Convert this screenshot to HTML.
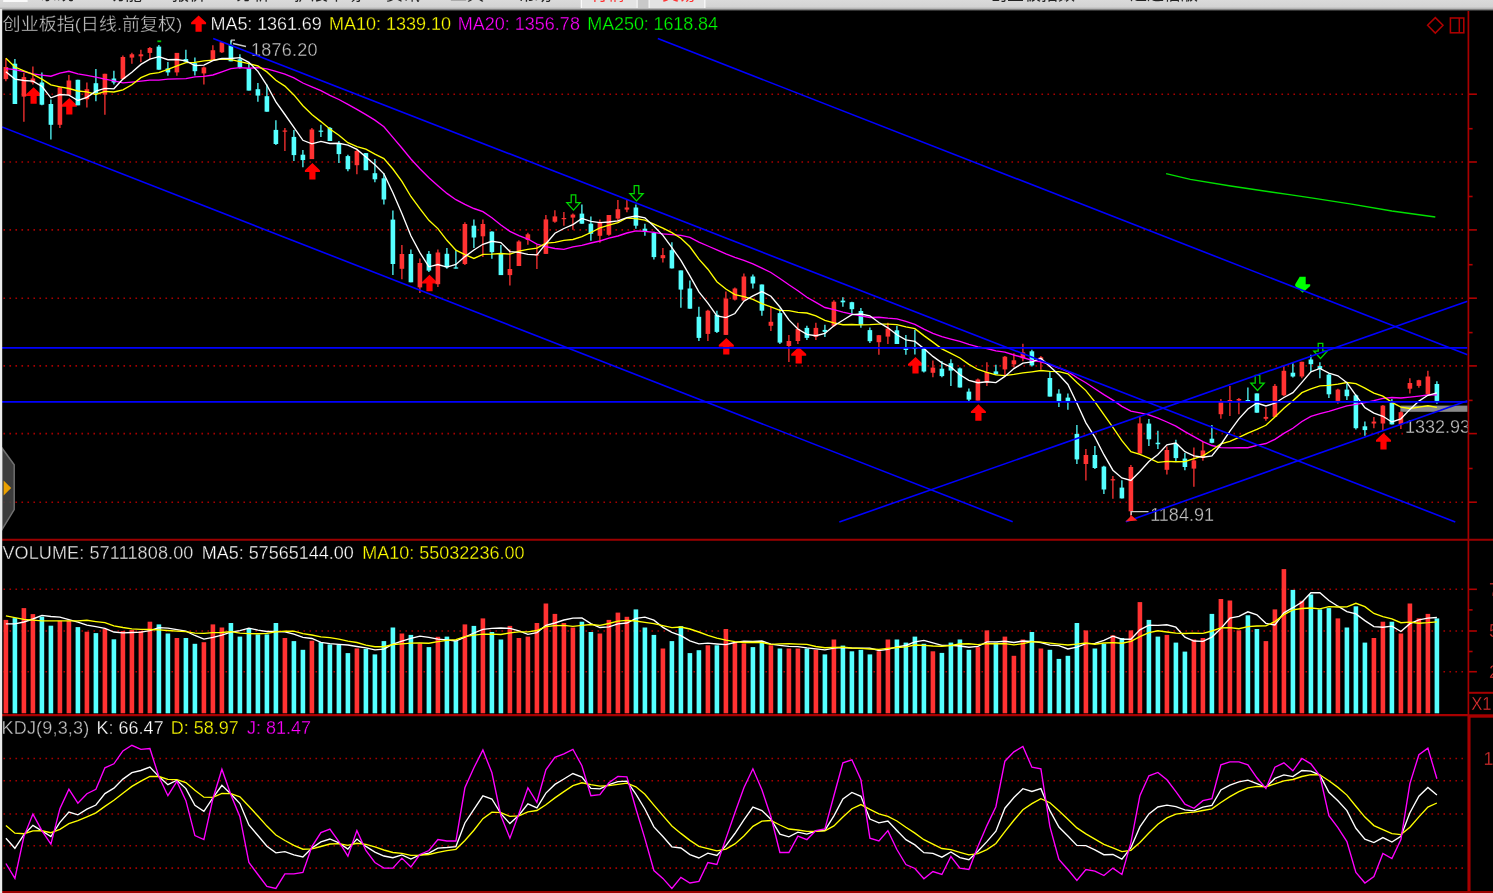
<!DOCTYPE html>
<html lang="zh"><head><meta charset="utf-8"><title>创业板指 日线</title>
<style>html,body{margin:0;padding:0;background:#000;overflow:hidden}body{width:1493px;height:893px;position:relative}svg{display:block;position:absolute;left:0;top:0}text{font-family:"Liberation Sans","Noto Sans CJK SC",sans-serif;font-size:18px;stroke:#000;stroke-width:0.3px}.cj{font-family:"Liberation Sans","Noto Sans CJK SC",sans-serif;font-size:17px}.tb{font-family:"Liberation Sans","Noto Sans CJK SC",sans-serif;font-size:17px;fill:#222;stroke:none}</style></head><body>
<svg width="1493" height="893" viewBox="0 0 1493 893">
<defs><linearGradient id="tg" x1="0" y1="0" x2="0" y2="1"><stop offset="0" stop-color="#dadada"/><stop offset="0.62" stop-color="#d3d3d3"/><stop offset="0.8" stop-color="#b2b2b2"/><stop offset="0.92" stop-color="#5a5a5a"/><stop offset="1" stop-color="#000"/></linearGradient><clipPath id="cm"><rect x="2" y="10" width="1465.5" height="530"/></clipPath><clipPath id="ct"><rect x="0" y="0" width="1493" height="9"/></clipPath><filter id="bl" x="-2%" y="-2%" width="104%" height="104%"><feGaussianBlur stdDeviation="0.35"/></filter></defs>
<rect x="0" y="0" width="1493" height="893" fill="#000"/>
<g filter="url(#bl)">
<line x1="3.45" y1="94.2" x2="1463" y2="94.2" stroke="#a60000" stroke-width="1.6" stroke-dasharray="1.6 4.4"/>
<line x1="3.45" y1="162.0" x2="1463" y2="162.0" stroke="#a60000" stroke-width="1.6" stroke-dasharray="1.6 4.4"/>
<line x1="3.45" y1="229.9" x2="1463" y2="229.9" stroke="#a60000" stroke-width="1.6" stroke-dasharray="1.6 4.4"/>
<line x1="3.45" y1="298.2" x2="1463" y2="298.2" stroke="#a60000" stroke-width="1.6" stroke-dasharray="1.6 4.4"/>
<line x1="3.45" y1="365.9" x2="1463" y2="365.9" stroke="#a60000" stroke-width="1.6" stroke-dasharray="1.6 4.4"/>
<line x1="3.45" y1="433.6" x2="1463" y2="433.6" stroke="#a60000" stroke-width="1.6" stroke-dasharray="1.6 4.4"/>
<line x1="3.45" y1="502.2" x2="1463" y2="502.2" stroke="#a60000" stroke-width="1.6" stroke-dasharray="1.6 4.4"/>
<line x1="3.45" y1="589.3" x2="1463" y2="589.3" stroke="#a60000" stroke-width="1.6" stroke-dasharray="1.6 4.4"/>
<line x1="3.45" y1="631.0" x2="1463" y2="631.0" stroke="#a60000" stroke-width="1.6" stroke-dasharray="1.6 4.4"/>
<line x1="3.45" y1="671.7" x2="1463" y2="671.7" stroke="#a60000" stroke-width="1.6" stroke-dasharray="1.6 4.4"/>
<line x1="3.45" y1="758.5" x2="1463" y2="758.5" stroke="#a60000" stroke-width="1.6" stroke-dasharray="1.6 4.4"/>
<line x1="3.45" y1="780.8" x2="1463" y2="780.8" stroke="#a60000" stroke-width="1.6" stroke-dasharray="1.6 4.4"/>
<line x1="3.45" y1="814.0" x2="1463" y2="814.0" stroke="#a60000" stroke-width="1.6" stroke-dasharray="1.6 4.4"/>
<line x1="3.45" y1="845.7" x2="1463" y2="845.7" stroke="#a60000" stroke-width="1.6" stroke-dasharray="1.6 4.4"/>
<line x1="3.45" y1="868.1" x2="1463" y2="868.1" stroke="#a60000" stroke-width="1.6" stroke-dasharray="1.6 4.4"/>
<line x1="1468.4" y1="10.5" x2="1468.4" y2="716" stroke="#a80000" stroke-width="1.7"/>
<line x1="1469" y1="715" x2="1469" y2="893" stroke="#a80000" stroke-width="3.1"/>
<line x1="2" y1="539.7" x2="1493" y2="539.7" stroke="#9c0000" stroke-width="1.9"/>
<line x1="2" y1="715.2" x2="1468" y2="715.2" stroke="#a80000" stroke-width="2.2"/>
<line x1="1468" y1="716" x2="1493" y2="716" stroke="#a80000" stroke-width="3.4"/>
<line x1="1468" y1="692.8" x2="1493" y2="692.8" stroke="#a80000" stroke-width="2"/>
<line x1="2" y1="892.3" x2="1493" y2="892.3" stroke="#9c0000" stroke-width="2.6"/>
<line x1="1468.4" y1="94.2" x2="1476.9" y2="94.2" stroke="#b00000" stroke-width="1.6"/>
<line x1="1468.4" y1="128.7" x2="1472.6" y2="128.7" stroke="#b00000" stroke-width="1.6"/>
<line x1="1468.4" y1="162.0" x2="1476.9" y2="162.0" stroke="#b00000" stroke-width="1.6"/>
<line x1="1468.4" y1="196.5" x2="1472.6" y2="196.5" stroke="#b00000" stroke-width="1.6"/>
<line x1="1468.4" y1="229.9" x2="1476.9" y2="229.9" stroke="#b00000" stroke-width="1.6"/>
<line x1="1468.4" y1="264.7" x2="1472.6" y2="264.7" stroke="#b00000" stroke-width="1.6"/>
<line x1="1468.4" y1="298.2" x2="1476.9" y2="298.2" stroke="#b00000" stroke-width="1.6"/>
<line x1="1468.4" y1="332.6" x2="1472.6" y2="332.6" stroke="#b00000" stroke-width="1.6"/>
<line x1="1468.4" y1="365.9" x2="1476.9" y2="365.9" stroke="#b00000" stroke-width="1.6"/>
<line x1="1468.4" y1="400.4" x2="1472.6" y2="400.4" stroke="#b00000" stroke-width="1.6"/>
<line x1="1468.4" y1="433.6" x2="1476.9" y2="433.6" stroke="#b00000" stroke-width="1.6"/>
<line x1="1468.4" y1="468.5" x2="1472.6" y2="468.5" stroke="#b00000" stroke-width="1.6"/>
<line x1="1468.4" y1="502.2" x2="1476.9" y2="502.2" stroke="#b00000" stroke-width="1.6"/>
<line x1="1468.4" y1="589.3" x2="1476.9" y2="589.3" stroke="#b00000" stroke-width="1.6"/>
<line x1="1468.4" y1="631.0" x2="1476.9" y2="631.0" stroke="#b00000" stroke-width="1.6"/>
<line x1="1468.4" y1="671.7" x2="1476.9" y2="671.7" stroke="#b00000" stroke-width="1.6"/>
<line x1="1468.4" y1="609.9" x2="1472.6" y2="609.9" stroke="#b00000" stroke-width="1.6"/>
<line x1="1468.4" y1="651.5" x2="1472.6" y2="651.5" stroke="#b00000" stroke-width="1.6"/>
<path d="M33.6 87.2 L41.1 94.3 L41.1 96.0 L36.7 96.0 L36.7 103.7 L30.5 103.7 L30.5 96.0 L26.1 96.0 L26.1 94.3 Z" fill="#ff0000"/>
<path d="M69.3 98.0 L76.8 105.1 L76.8 106.8 L72.4 106.8 L72.4 114.5 L66.2 114.5 L66.2 106.8 L61.8 106.8 L61.8 105.1 Z" fill="#ff0000"/>
<path d="M312.4 163.1 L319.9 170.2 L319.9 171.9 L315.5 171.9 L315.5 179.6 L309.3 179.6 L309.3 171.9 L304.9 171.9 L304.9 170.2 Z" fill="#ff0000"/>
<path d="M429.5 274.8 L437.0 281.9 L437.0 283.6 L432.6 283.6 L432.6 291.3 L426.4 291.3 L426.4 283.6 L422.0 283.6 L422.0 281.9 Z" fill="#ff0000"/>
<path d="M726.3 337.9 L733.8 345.0 L733.8 346.7 L729.4 346.7 L729.4 354.4 L723.2 354.4 L723.2 346.7 L718.8 346.7 L718.8 345.0 Z" fill="#ff0000"/>
<path d="M798.7 347.0 L806.2 354.1 L806.2 355.8 L801.8 355.8 L801.8 363.5 L795.6 363.5 L795.6 355.8 L791.2 355.8 L791.2 354.1 Z" fill="#ff0000"/>
<path d="M915.5 357.0 L923.0 364.1 L923.0 365.8 L918.6 365.8 L918.6 373.5 L912.4 373.5 L912.4 365.8 L908.0 365.8 L908.0 364.1 Z" fill="#ff0000"/>
<path d="M978.4 404.3 L985.9 411.4 L985.9 413.1 L981.5 413.1 L981.5 420.8 L975.3 420.8 L975.3 413.1 L970.9 413.1 L970.9 411.4 Z" fill="#ff0000"/>
<path d="M1383.5 432.9 L1391.0 440.0 L1391.0 441.7 L1386.6 441.7 L1386.6 449.4 L1380.4 449.4 L1380.4 441.7 L1376.0 441.7 L1376.0 440.0 Z" fill="#ff0000"/>
<rect x="1400.4" y="405.6" width="67" height="6.2" fill="#8a8a8a"/>
<line x1="5.9" y1="58.3" x2="5.9" y2="81.2" stroke="#ff3232" stroke-width="1.3"/>
<rect x="3.6" y="67.0" width="4.6" height="12.1" fill="#ff3232"/>
<line x1="14.9" y1="59.0" x2="14.9" y2="104.0" stroke="#54ffff" stroke-width="1.3"/>
<rect x="12.6" y="63.7" width="4.6" height="40.3" fill="#54ffff"/>
<line x1="23.9" y1="73.0" x2="23.9" y2="121.8" stroke="#ff3232" stroke-width="1.3"/>
<rect x="21.6" y="77.1" width="4.6" height="19.5" fill="#ff3232"/>
<line x1="32.9" y1="66.4" x2="32.9" y2="84.5" stroke="#ff3232" stroke-width="1.3"/>
<rect x="30.6" y="78.5" width="4.6" height="4.0" fill="#ff3232"/>
<line x1="41.9" y1="72.4" x2="41.9" y2="105.3" stroke="#54ffff" stroke-width="1.3"/>
<rect x="39.6" y="82.5" width="4.6" height="22.2" fill="#54ffff"/>
<line x1="50.9" y1="99.5" x2="50.9" y2="139.6" stroke="#54ffff" stroke-width="1.3"/>
<rect x="48.6" y="104.0" width="4.6" height="20.8" fill="#54ffff"/>
<line x1="59.9" y1="87.2" x2="59.9" y2="128.1" stroke="#ff3232" stroke-width="1.3"/>
<rect x="57.6" y="87.2" width="4.6" height="37.6" fill="#ff3232"/>
<line x1="68.9" y1="75.1" x2="68.9" y2="95.3" stroke="#ff3232" stroke-width="1.3"/>
<rect x="66.6" y="80.5" width="4.6" height="14.8" fill="#ff3232"/>
<line x1="77.9" y1="79.8" x2="77.9" y2="105.3" stroke="#54ffff" stroke-width="1.3"/>
<rect x="75.6" y="79.8" width="4.6" height="25.5" fill="#54ffff"/>
<line x1="86.9" y1="82.5" x2="86.9" y2="107.4" stroke="#ff3232" stroke-width="1.3"/>
<rect x="84.6" y="89.2" width="4.6" height="10.1" fill="#ff3232"/>
<line x1="95.9" y1="69.0" x2="95.9" y2="101.3" stroke="#54ffff" stroke-width="1.3"/>
<rect x="93.6" y="83.2" width="4.6" height="10.0" fill="#54ffff"/>
<line x1="104.9" y1="73.8" x2="104.9" y2="114.8" stroke="#ff3232" stroke-width="1.3"/>
<rect x="102.6" y="73.8" width="4.6" height="20.8" fill="#ff3232"/>
<line x1="113.9" y1="70.8" x2="113.9" y2="84.5" stroke="#54ffff" stroke-width="1.3"/>
<rect x="111.6" y="78.5" width="4.6" height="4.0" fill="#54ffff"/>
<line x1="122.9" y1="55.6" x2="122.9" y2="79.1" stroke="#ff3232" stroke-width="1.3"/>
<rect x="120.6" y="57.0" width="4.6" height="22.1" fill="#ff3232"/>
<line x1="131.9" y1="52.7" x2="131.9" y2="63.7" stroke="#ff3232" stroke-width="1.3"/>
<rect x="129.6" y="54.3" width="4.6" height="3.3" fill="#ff3232"/>
<line x1="140.9" y1="49.8" x2="140.9" y2="62.3" stroke="#ff3232" stroke-width="1.3"/>
<rect x="138.6" y="54.3" width="4.6" height="2.0" fill="#ff3232"/>
<line x1="149.9" y1="46.9" x2="149.9" y2="59.7" stroke="#ff3232" stroke-width="1.3"/>
<rect x="147.6" y="48.0" width="4.6" height="4.9" fill="#ff3232"/>
<line x1="158.9" y1="44.9" x2="158.9" y2="69.7" stroke="#54ffff" stroke-width="1.3"/>
<rect x="156.6" y="46.6" width="4.6" height="23.1" fill="#54ffff"/>
<line x1="167.9" y1="62.1" x2="167.9" y2="75.8" stroke="#54ffff" stroke-width="1.3"/>
<rect x="165.6" y="68.4" width="4.6" height="4.0" fill="#54ffff"/>
<line x1="176.9" y1="52.9" x2="176.9" y2="75.8" stroke="#ff3232" stroke-width="1.3"/>
<rect x="174.6" y="52.9" width="4.6" height="19.5" fill="#ff3232"/>
<line x1="185.9" y1="49.8" x2="185.9" y2="61.7" stroke="#54ffff" stroke-width="1.3"/>
<rect x="183.6" y="59.0" width="4.6" height="2.7" fill="#54ffff"/>
<line x1="194.9" y1="57.4" x2="194.9" y2="75.6" stroke="#54ffff" stroke-width="1.3"/>
<rect x="192.6" y="63.2" width="4.6" height="8.0" fill="#54ffff"/>
<line x1="203.9" y1="66.4" x2="203.9" y2="84.5" stroke="#ff3232" stroke-width="1.3"/>
<rect x="201.6" y="67.4" width="4.6" height="6.0" fill="#ff3232"/>
<line x1="212.9" y1="45.2" x2="212.9" y2="60.3" stroke="#ff3232" stroke-width="1.3"/>
<rect x="210.6" y="50.2" width="4.6" height="10.1" fill="#ff3232"/>
<line x1="221.9" y1="42.2" x2="221.9" y2="53.0" stroke="#ff3232" stroke-width="1.3"/>
<rect x="219.6" y="42.2" width="4.6" height="10.1" fill="#ff3232"/>
<line x1="230.9" y1="40.2" x2="230.9" y2="61.3" stroke="#54ffff" stroke-width="1.3"/>
<rect x="228.6" y="45.2" width="4.6" height="16.1" fill="#54ffff"/>
<line x1="239.9" y1="54.3" x2="239.9" y2="68.4" stroke="#54ffff" stroke-width="1.3"/>
<rect x="237.6" y="59.3" width="4.6" height="8.1" fill="#54ffff"/>
<line x1="248.9" y1="63.3" x2="248.9" y2="90.6" stroke="#54ffff" stroke-width="1.3"/>
<rect x="246.6" y="68.4" width="4.6" height="22.2" fill="#54ffff"/>
<line x1="257.9" y1="83.1" x2="257.9" y2="101.7" stroke="#54ffff" stroke-width="1.3"/>
<rect x="255.6" y="89.2" width="4.6" height="6.4" fill="#54ffff"/>
<line x1="266.9" y1="84.5" x2="266.9" y2="111.7" stroke="#54ffff" stroke-width="1.3"/>
<rect x="264.6" y="96.2" width="4.6" height="15.5" fill="#54ffff"/>
<line x1="275.9" y1="120.2" x2="275.9" y2="145.0" stroke="#54ffff" stroke-width="1.3"/>
<rect x="273.6" y="129.9" width="4.6" height="14.1" fill="#54ffff"/>
<line x1="284.9" y1="127.9" x2="284.9" y2="151.0" stroke="#ff3232" stroke-width="1.3"/>
<rect x="282.6" y="130.5" width="4.6" height="1.2" fill="#ff3232"/>
<line x1="293.9" y1="129.9" x2="293.9" y2="161.1" stroke="#54ffff" stroke-width="1.3"/>
<rect x="291.6" y="136.9" width="4.6" height="18.2" fill="#54ffff"/>
<line x1="302.9" y1="150.0" x2="302.9" y2="167.2" stroke="#54ffff" stroke-width="1.3"/>
<rect x="300.6" y="154.7" width="4.6" height="5.4" fill="#54ffff"/>
<line x1="311.9" y1="127.9" x2="311.9" y2="159.1" stroke="#ff3232" stroke-width="1.3"/>
<rect x="309.6" y="129.5" width="4.6" height="29.6" fill="#ff3232"/>
<line x1="320.9" y1="124.8" x2="320.9" y2="136.9" stroke="#54ffff" stroke-width="1.3"/>
<rect x="318.6" y="130.6" width="4.6" height="1.2" fill="#54ffff"/>
<line x1="329.9" y1="126.9" x2="329.9" y2="141.0" stroke="#54ffff" stroke-width="1.3"/>
<rect x="327.6" y="127.9" width="4.6" height="13.1" fill="#54ffff"/>
<line x1="338.9" y1="141.0" x2="338.9" y2="163.1" stroke="#54ffff" stroke-width="1.3"/>
<rect x="336.6" y="143.0" width="4.6" height="11.1" fill="#54ffff"/>
<line x1="347.9" y1="154.7" x2="347.9" y2="171.2" stroke="#54ffff" stroke-width="1.3"/>
<rect x="345.6" y="156.1" width="4.6" height="13.1" fill="#54ffff"/>
<line x1="356.9" y1="150.0" x2="356.9" y2="174.2" stroke="#ff3232" stroke-width="1.3"/>
<rect x="354.6" y="151.0" width="4.6" height="14.2" fill="#ff3232"/>
<line x1="365.9" y1="153.1" x2="365.9" y2="170.2" stroke="#54ffff" stroke-width="1.3"/>
<rect x="363.6" y="153.1" width="4.6" height="17.1" fill="#54ffff"/>
<line x1="374.9" y1="159.1" x2="374.9" y2="182.3" stroke="#54ffff" stroke-width="1.3"/>
<rect x="372.6" y="173.2" width="4.6" height="6.1" fill="#54ffff"/>
<line x1="383.9" y1="173.3" x2="383.9" y2="204.5" stroke="#54ffff" stroke-width="1.3"/>
<rect x="381.6" y="178.3" width="4.6" height="21.2" fill="#54ffff"/>
<line x1="392.9" y1="210.6" x2="392.9" y2="275.1" stroke="#54ffff" stroke-width="1.3"/>
<rect x="390.6" y="219.6" width="4.6" height="44.4" fill="#54ffff"/>
<line x1="401.9" y1="245.0" x2="401.9" y2="279.3" stroke="#ff3232" stroke-width="1.3"/>
<rect x="399.6" y="254.0" width="4.6" height="14.8" fill="#ff3232"/>
<line x1="410.9" y1="249.5" x2="410.9" y2="282.3" stroke="#54ffff" stroke-width="1.3"/>
<rect x="408.6" y="254.0" width="4.6" height="28.3" fill="#54ffff"/>
<line x1="419.9" y1="258.5" x2="419.9" y2="293.1" stroke="#ff3232" stroke-width="1.3"/>
<rect x="417.6" y="263.0" width="4.6" height="24.4" fill="#ff3232"/>
<line x1="428.9" y1="250.9" x2="428.9" y2="272.0" stroke="#54ffff" stroke-width="1.3"/>
<rect x="426.6" y="253.9" width="4.6" height="16.7" fill="#54ffff"/>
<line x1="437.9" y1="249.5" x2="437.9" y2="287.0" stroke="#ff3232" stroke-width="1.3"/>
<rect x="435.6" y="252.5" width="4.6" height="31.7" fill="#ff3232"/>
<line x1="446.9" y1="248.0" x2="446.9" y2="268.7" stroke="#54ffff" stroke-width="1.3"/>
<rect x="444.6" y="253.8" width="4.6" height="13.5" fill="#54ffff"/>
<line x1="455.9" y1="250.2" x2="455.9" y2="268.6" stroke="#54ffff" stroke-width="1.3"/>
<rect x="453.6" y="267.4" width="4.6" height="1.2" fill="#54ffff"/>
<line x1="464.9" y1="222.3" x2="464.9" y2="265.0" stroke="#ff3232" stroke-width="1.3"/>
<rect x="462.6" y="224.0" width="4.6" height="40.0" fill="#ff3232"/>
<line x1="473.9" y1="219.4" x2="473.9" y2="247.9" stroke="#54ffff" stroke-width="1.3"/>
<rect x="471.6" y="225.7" width="4.6" height="11.8" fill="#54ffff"/>
<line x1="482.9" y1="219.6" x2="482.9" y2="257.0" stroke="#ff3232" stroke-width="1.3"/>
<rect x="480.6" y="224.0" width="4.6" height="12.3" fill="#ff3232"/>
<line x1="491.9" y1="231.3" x2="491.9" y2="258.8" stroke="#54ffff" stroke-width="1.3"/>
<rect x="489.6" y="231.6" width="4.6" height="20.6" fill="#54ffff"/>
<line x1="500.9" y1="245.1" x2="500.9" y2="275.1" stroke="#54ffff" stroke-width="1.3"/>
<rect x="498.6" y="253.6" width="4.6" height="21.5" fill="#54ffff"/>
<line x1="509.9" y1="249.6" x2="509.9" y2="285.5" stroke="#ff3232" stroke-width="1.3"/>
<rect x="507.6" y="269.0" width="4.6" height="6.1" fill="#ff3232"/>
<line x1="518.9" y1="240.3" x2="518.9" y2="266.0" stroke="#ff3232" stroke-width="1.3"/>
<rect x="516.6" y="241.5" width="4.6" height="24.5" fill="#ff3232"/>
<line x1="527.9" y1="232.7" x2="527.9" y2="244.8" stroke="#ff3232" stroke-width="1.3"/>
<rect x="525.6" y="234.3" width="4.6" height="5.7" fill="#ff3232"/>
<line x1="536.9" y1="244.6" x2="536.9" y2="269.0" stroke="#ff3232" stroke-width="1.3"/>
<rect x="534.6" y="254.4" width="4.6" height="1.2" fill="#ff3232"/>
<line x1="545.9" y1="215.0" x2="545.9" y2="253.9" stroke="#ff3232" stroke-width="1.3"/>
<rect x="543.6" y="219.4" width="4.6" height="34.5" fill="#ff3232"/>
<line x1="554.9" y1="210.3" x2="554.9" y2="222.7" stroke="#ff3232" stroke-width="1.3"/>
<rect x="552.6" y="216.4" width="4.6" height="5.3" fill="#ff3232"/>
<line x1="563.9" y1="212.0" x2="563.9" y2="225.7" stroke="#ff3232" stroke-width="1.3"/>
<rect x="561.6" y="218.0" width="4.6" height="1.2" fill="#ff3232"/>
<line x1="572.9" y1="213.6" x2="572.9" y2="229.7" stroke="#ff3232" stroke-width="1.3"/>
<rect x="570.6" y="214.6" width="4.6" height="3.0" fill="#ff3232"/>
<line x1="581.9" y1="204.5" x2="581.9" y2="223.7" stroke="#54ffff" stroke-width="1.3"/>
<rect x="579.6" y="213.6" width="4.6" height="10.1" fill="#54ffff"/>
<line x1="590.9" y1="216.6" x2="590.9" y2="240.8" stroke="#54ffff" stroke-width="1.3"/>
<rect x="588.6" y="223.7" width="4.6" height="10.1" fill="#54ffff"/>
<line x1="599.9" y1="219.6" x2="599.9" y2="242.8" stroke="#ff3232" stroke-width="1.3"/>
<rect x="597.6" y="222.7" width="4.6" height="13.1" fill="#ff3232"/>
<line x1="608.9" y1="215.0" x2="608.9" y2="235.8" stroke="#ff3232" stroke-width="1.3"/>
<rect x="606.6" y="215.0" width="4.6" height="19.8" fill="#ff3232"/>
<line x1="617.9" y1="200.1" x2="617.9" y2="221.7" stroke="#ff3232" stroke-width="1.3"/>
<rect x="615.6" y="209.2" width="4.6" height="9.4" fill="#ff3232"/>
<line x1="626.9" y1="200.1" x2="626.9" y2="212.2" stroke="#ff3232" stroke-width="1.3"/>
<rect x="624.6" y="207.5" width="4.6" height="2.1" fill="#ff3232"/>
<line x1="635.9" y1="204.5" x2="635.9" y2="228.7" stroke="#54ffff" stroke-width="1.3"/>
<rect x="633.6" y="207.5" width="4.6" height="18.2" fill="#54ffff"/>
<line x1="644.9" y1="223.7" x2="644.9" y2="235.8" stroke="#54ffff" stroke-width="1.3"/>
<rect x="642.6" y="228.7" width="4.6" height="3.0" fill="#54ffff"/>
<line x1="653.9" y1="231.7" x2="653.9" y2="259.6" stroke="#54ffff" stroke-width="1.3"/>
<rect x="651.6" y="232.9" width="4.6" height="24.2" fill="#54ffff"/>
<line x1="662.9" y1="248.0" x2="662.9" y2="262.6" stroke="#ff3232" stroke-width="1.3"/>
<rect x="660.6" y="255.1" width="4.6" height="3.1" fill="#ff3232"/>
<line x1="671.9" y1="242.2" x2="671.9" y2="268.4" stroke="#54ffff" stroke-width="1.3"/>
<rect x="669.6" y="250.2" width="4.6" height="18.2" fill="#54ffff"/>
<line x1="680.9" y1="270.4" x2="680.9" y2="307.7" stroke="#54ffff" stroke-width="1.3"/>
<rect x="678.6" y="270.4" width="4.6" height="19.2" fill="#54ffff"/>
<line x1="689.9" y1="280.5" x2="689.9" y2="308.7" stroke="#54ffff" stroke-width="1.3"/>
<rect x="687.6" y="288.5" width="4.6" height="20.2" fill="#54ffff"/>
<line x1="698.9" y1="306.7" x2="698.9" y2="341.0" stroke="#54ffff" stroke-width="1.3"/>
<rect x="696.6" y="316.8" width="4.6" height="21.1" fill="#54ffff"/>
<line x1="707.9" y1="309.7" x2="707.9" y2="341.0" stroke="#ff3232" stroke-width="1.3"/>
<rect x="705.6" y="310.7" width="4.6" height="23.2" fill="#ff3232"/>
<line x1="716.9" y1="310.7" x2="716.9" y2="332.9" stroke="#54ffff" stroke-width="1.3"/>
<rect x="714.6" y="314.8" width="4.6" height="17.1" fill="#54ffff"/>
<line x1="725.9" y1="291.6" x2="725.9" y2="334.9" stroke="#ff3232" stroke-width="1.3"/>
<rect x="723.6" y="298.6" width="4.6" height="36.3" fill="#ff3232"/>
<line x1="734.9" y1="287.5" x2="734.9" y2="300.6" stroke="#ff3232" stroke-width="1.3"/>
<rect x="732.6" y="288.5" width="4.6" height="11.1" fill="#ff3232"/>
<line x1="743.9" y1="273.4" x2="743.9" y2="300.6" stroke="#ff3232" stroke-width="1.3"/>
<rect x="741.6" y="276.5" width="4.6" height="24.1" fill="#ff3232"/>
<line x1="752.9" y1="274.4" x2="752.9" y2="288.5" stroke="#54ffff" stroke-width="1.3"/>
<rect x="750.6" y="276.5" width="4.6" height="7.0" fill="#54ffff"/>
<line x1="761.9" y1="284.5" x2="761.9" y2="315.8" stroke="#54ffff" stroke-width="1.3"/>
<rect x="759.6" y="284.5" width="4.6" height="26.2" fill="#54ffff"/>
<line x1="770.9" y1="306.7" x2="770.9" y2="330.9" stroke="#ff3232" stroke-width="1.3"/>
<rect x="768.6" y="321.8" width="4.6" height="4.0" fill="#ff3232"/>
<line x1="779.9" y1="308.7" x2="779.9" y2="344.0" stroke="#54ffff" stroke-width="1.3"/>
<rect x="777.6" y="313.1" width="4.6" height="29.5" fill="#54ffff"/>
<line x1="788.9" y1="334.9" x2="788.9" y2="362.1" stroke="#ff3232" stroke-width="1.3"/>
<rect x="786.6" y="341.0" width="4.6" height="5.0" fill="#ff3232"/>
<line x1="797.9" y1="322.8" x2="797.9" y2="344.0" stroke="#ff3232" stroke-width="1.3"/>
<rect x="795.6" y="328.9" width="4.6" height="12.1" fill="#ff3232"/>
<line x1="806.9" y1="325.8" x2="806.9" y2="340.0" stroke="#54ffff" stroke-width="1.3"/>
<rect x="804.6" y="327.9" width="4.6" height="10.0" fill="#54ffff"/>
<line x1="815.9" y1="322.8" x2="815.9" y2="340.0" stroke="#ff3232" stroke-width="1.3"/>
<rect x="813.6" y="327.9" width="4.6" height="9.0" fill="#ff3232"/>
<line x1="824.9" y1="324.8" x2="824.9" y2="336.9" stroke="#54ffff" stroke-width="1.3"/>
<rect x="822.6" y="329.9" width="4.6" height="2.0" fill="#54ffff"/>
<line x1="833.9" y1="300.2" x2="833.9" y2="326.9" stroke="#ff3232" stroke-width="1.3"/>
<rect x="831.6" y="301.7" width="4.6" height="24.1" fill="#ff3232"/>
<line x1="842.9" y1="297.2" x2="842.9" y2="306.7" stroke="#54ffff" stroke-width="1.3"/>
<rect x="840.6" y="300.6" width="4.6" height="1.7" fill="#54ffff"/>
<line x1="851.9" y1="301.7" x2="851.9" y2="314.2" stroke="#54ffff" stroke-width="1.3"/>
<rect x="849.6" y="302.2" width="4.6" height="7.0" fill="#54ffff"/>
<line x1="860.9" y1="307.9" x2="860.9" y2="327.8" stroke="#54ffff" stroke-width="1.3"/>
<rect x="858.6" y="311.0" width="4.6" height="13.8" fill="#54ffff"/>
<line x1="869.9" y1="327.6" x2="869.9" y2="343.0" stroke="#54ffff" stroke-width="1.3"/>
<rect x="867.6" y="330.1" width="4.6" height="11.1" fill="#54ffff"/>
<line x1="878.9" y1="334.9" x2="878.9" y2="354.8" stroke="#ff3232" stroke-width="1.3"/>
<rect x="876.6" y="335.2" width="4.6" height="7.0" fill="#ff3232"/>
<line x1="887.9" y1="322.8" x2="887.9" y2="344.0" stroke="#ff3232" stroke-width="1.3"/>
<rect x="885.6" y="328.6" width="4.6" height="8.0" fill="#ff3232"/>
<line x1="896.9" y1="325.8" x2="896.9" y2="344.0" stroke="#54ffff" stroke-width="1.3"/>
<rect x="894.6" y="330.3" width="4.6" height="13.7" fill="#54ffff"/>
<line x1="905.9" y1="334.9" x2="905.9" y2="354.8" stroke="#54ffff" stroke-width="1.3"/>
<rect x="903.6" y="348.0" width="4.6" height="2.0" fill="#54ffff"/>
<line x1="914.9" y1="329.8" x2="914.9" y2="354.5" stroke="#54ffff" stroke-width="1.3"/>
<rect x="912.6" y="347.0" width="4.6" height="2.0" fill="#54ffff"/>
<line x1="923.9" y1="348.0" x2="923.9" y2="372.5" stroke="#54ffff" stroke-width="1.3"/>
<rect x="921.6" y="348.8" width="4.6" height="22.7" fill="#54ffff"/>
<line x1="932.9" y1="360.6" x2="932.9" y2="377.3" stroke="#ff3232" stroke-width="1.3"/>
<rect x="930.6" y="367.6" width="4.6" height="5.2" fill="#ff3232"/>
<line x1="941.9" y1="361.2" x2="941.9" y2="377.3" stroke="#54ffff" stroke-width="1.3"/>
<rect x="939.6" y="368.7" width="4.6" height="7.4" fill="#54ffff"/>
<line x1="950.9" y1="359.2" x2="950.9" y2="386.1" stroke="#54ffff" stroke-width="1.3"/>
<rect x="948.6" y="363.2" width="4.6" height="7.4" fill="#54ffff"/>
<line x1="959.9" y1="367.4" x2="959.9" y2="387.5" stroke="#54ffff" stroke-width="1.3"/>
<rect x="957.6" y="368.4" width="4.6" height="19.1" fill="#54ffff"/>
<line x1="968.9" y1="388.5" x2="968.9" y2="401.7" stroke="#54ffff" stroke-width="1.3"/>
<rect x="966.6" y="391.6" width="4.6" height="8.0" fill="#54ffff"/>
<line x1="977.9" y1="378.5" x2="977.9" y2="400.6" stroke="#ff3232" stroke-width="1.3"/>
<rect x="975.6" y="379.5" width="4.6" height="21.1" fill="#ff3232"/>
<line x1="986.9" y1="362.3" x2="986.9" y2="386.1" stroke="#ff3232" stroke-width="1.3"/>
<rect x="984.6" y="372.0" width="4.6" height="10.5" fill="#ff3232"/>
<line x1="995.9" y1="364.8" x2="995.9" y2="374.4" stroke="#54ffff" stroke-width="1.3"/>
<rect x="993.6" y="371.4" width="4.6" height="3.0" fill="#54ffff"/>
<line x1="1004.9" y1="355.9" x2="1004.9" y2="375.4" stroke="#ff3232" stroke-width="1.3"/>
<rect x="1002.6" y="356.7" width="4.6" height="12.7" fill="#ff3232"/>
<line x1="1013.9" y1="353.3" x2="1013.9" y2="367.4" stroke="#ff3232" stroke-width="1.3"/>
<rect x="1011.6" y="360.3" width="4.6" height="4.1" fill="#ff3232"/>
<line x1="1022.9" y1="343.8" x2="1022.9" y2="361.3" stroke="#ff3232" stroke-width="1.3"/>
<rect x="1020.6" y="352.3" width="4.6" height="6.0" fill="#ff3232"/>
<line x1="1031.9" y1="349.8" x2="1031.9" y2="366.4" stroke="#54ffff" stroke-width="1.3"/>
<rect x="1029.6" y="351.3" width="4.6" height="14.1" fill="#54ffff"/>
<line x1="1040.9" y1="355.9" x2="1040.9" y2="369.4" stroke="#ff3232" stroke-width="1.3"/>
<rect x="1038.6" y="357.3" width="4.6" height="2.0" fill="#ff3232"/>
<line x1="1049.9" y1="371.4" x2="1049.9" y2="396.6" stroke="#54ffff" stroke-width="1.3"/>
<rect x="1047.6" y="378.0" width="4.6" height="18.6" fill="#54ffff"/>
<line x1="1058.9" y1="389.2" x2="1058.9" y2="407.1" stroke="#54ffff" stroke-width="1.3"/>
<rect x="1056.6" y="393.6" width="4.6" height="8.1" fill="#54ffff"/>
<line x1="1067.9" y1="393.6" x2="1067.9" y2="409.7" stroke="#54ffff" stroke-width="1.3"/>
<rect x="1065.6" y="397.6" width="4.6" height="4.1" fill="#54ffff"/>
<line x1="1076.9" y1="425.0" x2="1076.9" y2="464.0" stroke="#54ffff" stroke-width="1.3"/>
<rect x="1074.6" y="433.9" width="4.6" height="25.5" fill="#54ffff"/>
<line x1="1085.9" y1="449.1" x2="1085.9" y2="480.5" stroke="#ff3232" stroke-width="1.3"/>
<rect x="1083.6" y="455.0" width="4.6" height="9.0" fill="#ff3232"/>
<line x1="1094.9" y1="446.0" x2="1094.9" y2="468.9" stroke="#54ffff" stroke-width="1.3"/>
<rect x="1092.6" y="455.0" width="4.6" height="13.0" fill="#54ffff"/>
<line x1="1103.9" y1="465.7" x2="1103.9" y2="494.1" stroke="#54ffff" stroke-width="1.3"/>
<rect x="1101.6" y="466.6" width="4.6" height="22.9" fill="#54ffff"/>
<line x1="1112.9" y1="476.0" x2="1112.9" y2="498.7" stroke="#ff3232" stroke-width="1.3"/>
<rect x="1110.6" y="479.2" width="4.6" height="1.2" fill="#ff3232"/>
<line x1="1121.9" y1="480.3" x2="1121.9" y2="498.4" stroke="#54ffff" stroke-width="1.3"/>
<rect x="1119.6" y="487.6" width="4.6" height="10.8" fill="#54ffff"/>
<line x1="1130.9" y1="465.0" x2="1130.9" y2="519.0" stroke="#ff3232" stroke-width="1.3"/>
<rect x="1128.6" y="467.0" width="4.6" height="44.3" fill="#ff3232"/>
<line x1="1139.9" y1="416.2" x2="1139.9" y2="453.6" stroke="#ff3232" stroke-width="1.3"/>
<rect x="1137.6" y="423.4" width="4.6" height="30.2" fill="#ff3232"/>
<line x1="1148.9" y1="418.9" x2="1148.9" y2="446.0" stroke="#54ffff" stroke-width="1.3"/>
<rect x="1146.6" y="423.6" width="4.6" height="15.7" fill="#54ffff"/>
<line x1="1157.9" y1="430.7" x2="1157.9" y2="449.1" stroke="#54ffff" stroke-width="1.3"/>
<rect x="1155.6" y="442.7" width="4.6" height="1.5" fill="#54ffff"/>
<line x1="1166.9" y1="446.4" x2="1166.9" y2="474.6" stroke="#ff3232" stroke-width="1.3"/>
<rect x="1164.6" y="450.0" width="4.6" height="19.8" fill="#ff3232"/>
<line x1="1175.9" y1="439.7" x2="1175.9" y2="461.2" stroke="#54ffff" stroke-width="1.3"/>
<rect x="1173.6" y="444.0" width="4.6" height="14.1" fill="#54ffff"/>
<line x1="1184.9" y1="453.1" x2="1184.9" y2="470.2" stroke="#54ffff" stroke-width="1.3"/>
<rect x="1182.6" y="458.6" width="4.6" height="8.4" fill="#54ffff"/>
<line x1="1193.9" y1="447.5" x2="1193.9" y2="486.8" stroke="#ff3232" stroke-width="1.3"/>
<rect x="1191.6" y="460.4" width="4.6" height="8.2" fill="#ff3232"/>
<line x1="1202.9" y1="442.1" x2="1202.9" y2="460.8" stroke="#ff3232" stroke-width="1.3"/>
<rect x="1200.6" y="450.5" width="4.6" height="7.5" fill="#ff3232"/>
<line x1="1211.9" y1="425.1" x2="1211.9" y2="443.3" stroke="#54ffff" stroke-width="1.3"/>
<rect x="1209.6" y="438.7" width="4.6" height="4.1" fill="#54ffff"/>
<line x1="1220.9" y1="399.1" x2="1220.9" y2="418.8" stroke="#ff3232" stroke-width="1.3"/>
<rect x="1218.6" y="402.0" width="4.6" height="12.2" fill="#ff3232"/>
<line x1="1229.9" y1="385.9" x2="1229.9" y2="416.0" stroke="#ff3232" stroke-width="1.3"/>
<rect x="1227.6" y="400.0" width="4.6" height="1.3" fill="#ff3232"/>
<line x1="1238.9" y1="398.1" x2="1238.9" y2="414.2" stroke="#ff3232" stroke-width="1.3"/>
<rect x="1236.6" y="399.0" width="4.6" height="1.5" fill="#ff3232"/>
<line x1="1247.9" y1="387.4" x2="1247.9" y2="401.3" stroke="#54ffff" stroke-width="1.3"/>
<rect x="1245.6" y="400.0" width="4.6" height="1.3" fill="#54ffff"/>
<line x1="1256.9" y1="393.4" x2="1256.9" y2="412.7" stroke="#54ffff" stroke-width="1.3"/>
<rect x="1254.6" y="393.4" width="4.6" height="19.3" fill="#54ffff"/>
<line x1="1265.9" y1="407.5" x2="1265.9" y2="420.7" stroke="#ff3232" stroke-width="1.3"/>
<rect x="1263.6" y="416.9" width="4.6" height="1.9" fill="#ff3232"/>
<line x1="1274.9" y1="384.0" x2="1274.9" y2="416.9" stroke="#ff3232" stroke-width="1.3"/>
<rect x="1272.6" y="385.9" width="4.6" height="31.0" fill="#ff3232"/>
<line x1="1283.9" y1="365.2" x2="1283.9" y2="396.2" stroke="#ff3232" stroke-width="1.3"/>
<rect x="1281.6" y="370.8" width="4.6" height="24.5" fill="#ff3232"/>
<line x1="1292.9" y1="363.3" x2="1292.9" y2="377.4" stroke="#54ffff" stroke-width="1.3"/>
<rect x="1290.6" y="372.7" width="4.6" height="3.8" fill="#54ffff"/>
<line x1="1301.9" y1="361.8" x2="1301.9" y2="378.3" stroke="#ff3232" stroke-width="1.3"/>
<rect x="1299.6" y="361.8" width="4.6" height="14.7" fill="#ff3232"/>
<line x1="1310.9" y1="354.8" x2="1310.9" y2="371.7" stroke="#54ffff" stroke-width="1.3"/>
<rect x="1308.6" y="359.5" width="4.6" height="4.7" fill="#54ffff"/>
<line x1="1319.9" y1="362.3" x2="1319.9" y2="378.3" stroke="#54ffff" stroke-width="1.3"/>
<rect x="1317.6" y="366.1" width="4.6" height="2.8" fill="#54ffff"/>
<line x1="1328.9" y1="373.6" x2="1328.9" y2="398.1" stroke="#54ffff" stroke-width="1.3"/>
<rect x="1326.6" y="374.6" width="4.6" height="19.7" fill="#54ffff"/>
<line x1="1337.9" y1="388.7" x2="1337.9" y2="403.7" stroke="#ff3232" stroke-width="1.3"/>
<rect x="1335.6" y="389.6" width="4.6" height="11.3" fill="#ff3232"/>
<line x1="1346.9" y1="384.0" x2="1346.9" y2="400.0" stroke="#54ffff" stroke-width="1.3"/>
<rect x="1344.6" y="389.6" width="4.6" height="6.6" fill="#54ffff"/>
<line x1="1355.9" y1="394.3" x2="1355.9" y2="429.5" stroke="#54ffff" stroke-width="1.3"/>
<rect x="1353.6" y="395.3" width="4.6" height="32.9" fill="#54ffff"/>
<line x1="1364.9" y1="421.6" x2="1364.9" y2="435.7" stroke="#54ffff" stroke-width="1.3"/>
<rect x="1362.6" y="426.3" width="4.6" height="3.8" fill="#54ffff"/>
<line x1="1373.9" y1="416.9" x2="1373.9" y2="428.2" stroke="#ff3232" stroke-width="1.3"/>
<rect x="1371.6" y="421.6" width="4.6" height="1.9" fill="#ff3232"/>
<line x1="1382.9" y1="405.1" x2="1382.9" y2="430.1" stroke="#ff3232" stroke-width="1.3"/>
<rect x="1380.6" y="405.6" width="4.6" height="17.9" fill="#ff3232"/>
<line x1="1391.9" y1="399.0" x2="1391.9" y2="424.4" stroke="#54ffff" stroke-width="1.3"/>
<rect x="1389.6" y="402.4" width="4.6" height="22.0" fill="#54ffff"/>
<line x1="1400.9" y1="411.3" x2="1400.9" y2="429.1" stroke="#ff3232" stroke-width="1.3"/>
<rect x="1398.6" y="412.2" width="4.6" height="12.2" fill="#ff3232"/>
<line x1="1409.9" y1="378.3" x2="1409.9" y2="393.4" stroke="#ff3232" stroke-width="1.3"/>
<rect x="1407.6" y="383.0" width="4.6" height="5.7" fill="#ff3232"/>
<line x1="1418.9" y1="379.8" x2="1418.9" y2="387.7" stroke="#ff3232" stroke-width="1.3"/>
<rect x="1416.6" y="380.2" width="4.6" height="5.7" fill="#ff3232"/>
<line x1="1427.9" y1="370.8" x2="1427.9" y2="394.3" stroke="#ff3232" stroke-width="1.3"/>
<rect x="1425.6" y="376.5" width="4.6" height="17.8" fill="#ff3232"/>
<line x1="1436.9" y1="381.2" x2="1436.9" y2="403.7" stroke="#54ffff" stroke-width="1.3"/>
<rect x="1434.6" y="384.0" width="4.6" height="16.9" fill="#54ffff"/>
<polyline points="5.9,68.7 14.9,69.7 23.9,71.7 32.9,73.8 41.9,75.1 50.9,76.2 59.9,73.1 68.9,71.3 77.9,73.8 86.9,75.4 95.9,77.1 104.9,79.1 113.9,80.8 122.9,82.9 131.9,82.1 140.9,81.2 149.9,80.1 158.9,80.1 167.9,79.1 176.9,78.8 185.9,78.6 194.9,76.9 203.9,76.4 212.9,75.0 221.9,71.9 230.9,68.7 239.9,67.7 248.9,68.2 257.9,67.7 266.9,68.9 275.9,71.4 284.9,74.2 293.9,77.9 302.9,83.0 311.9,86.8 320.9,90.7 329.9,95.3 338.9,99.5 347.9,104.4 356.9,109.3 365.9,114.7 374.9,120.1 383.9,126.7 392.9,137.4 401.9,148.0 410.9,159.0 419.9,168.8 428.9,177.8 437.9,185.7 446.9,193.4 455.9,199.7 464.9,204.4 473.9,208.5 482.9,211.7 491.9,217.8 500.9,225.0 509.9,231.4 518.9,235.7 527.9,239.0 536.9,244.2 545.9,246.6 554.9,248.5 563.9,249.4 572.9,246.9 581.9,245.4 590.9,243.0 599.9,241.0 608.9,238.2 617.9,236.0 626.9,233.0 635.9,230.9 644.9,231.3 653.9,232.3 662.9,233.8 671.9,234.6 680.9,235.4 689.9,237.3 698.9,242.2 707.9,246.0 716.9,249.9 725.9,253.8 734.9,257.4 743.9,260.3 752.9,263.8 761.9,268.1 770.9,272.5 779.9,278.5 788.9,284.8 797.9,290.8 806.9,297.3 815.9,302.4 824.9,307.5 833.9,309.7 842.9,312.1 851.9,314.1 860.9,315.9 869.9,317.5 878.9,317.3 887.9,318.2 896.9,318.8 905.9,321.4 914.9,324.4 923.9,329.2 932.9,333.4 941.9,336.7 950.9,339.1 959.9,341.3 968.9,344.3 977.9,346.8 986.9,348.5 995.9,350.8 1004.9,352.1 1013.9,355.0 1022.9,357.5 1031.9,360.3 1040.9,361.9 1049.9,364.7 1058.9,368.0 1067.9,371.7 1076.9,377.5 1085.9,382.7 1094.9,388.7 1103.9,394.6 1112.9,400.1 1121.9,406.3 1130.9,411.1 1139.9,412.9 1148.9,414.9 1157.9,418.1 1166.9,422.0 1175.9,426.2 1184.9,431.7 1193.9,436.7 1202.9,441.6 1211.9,445.5 1220.9,447.7 1229.9,447.9 1238.9,447.7 1247.9,447.7 1256.9,445.4 1265.9,443.5 1274.9,439.4 1283.9,433.4 1292.9,428.3 1301.9,421.5 1310.9,416.3 1319.9,413.6 1328.9,411.4 1337.9,408.6 1346.9,405.9 1355.9,404.4 1364.9,402.6 1373.9,400.7 1382.9,398.4 1391.9,397.5 1400.9,398.0 1409.9,397.2 1418.9,396.2 1427.9,395.0 1436.9,394.9" fill="none" stroke="#ff00ff" stroke-width="1.35" />
<polyline points="5.9,58.3 14.9,67.0 23.9,70.8 32.9,74.4 41.9,79.1 50.9,84.9 59.9,86.8 68.9,88.5 77.9,91.0 86.9,91.8 95.9,94.5 104.9,91.4 113.9,92.0 122.9,89.8 131.9,84.8 140.9,77.7 149.9,73.8 158.9,72.7 167.9,69.4 176.9,65.8 185.9,62.7 194.9,62.4 203.9,60.9 212.9,60.2 221.9,59.0 230.9,59.7 239.9,61.6 248.9,63.7 257.9,66.0 266.9,71.9 275.9,80.2 284.9,86.1 293.9,94.9 302.9,105.8 311.9,114.6 320.9,121.6 329.9,129.0 338.9,135.3 347.9,142.7 356.9,146.6 365.9,149.2 374.9,154.1 383.9,158.6 392.9,169.0 401.9,181.4 410.9,196.5 419.9,208.7 428.9,220.3 437.9,228.6 446.9,240.3 455.9,250.1 464.9,254.6 473.9,258.4 482.9,254.4 491.9,254.2 500.9,253.5 509.9,254.1 518.9,251.2 527.9,249.3 536.9,248.1 545.9,243.1 554.9,242.4 563.9,240.4 572.9,239.5 581.9,236.6 590.9,232.5 599.9,227.9 608.9,225.2 617.9,222.7 626.9,218.0 635.9,218.7 644.9,220.2 653.9,224.1 662.9,228.2 671.9,232.6 680.9,238.2 689.9,246.8 698.9,259.1 707.9,269.2 716.9,281.7 725.9,289.0 734.9,294.6 743.9,296.6 752.9,299.4 761.9,303.7 770.9,306.9 779.9,310.3 788.9,310.6 797.9,312.4 806.9,313.0 815.9,315.9 824.9,320.3 833.9,322.8 842.9,324.7 851.9,324.5 860.9,324.8 869.9,324.7 878.9,324.1 887.9,324.1 896.9,324.7 905.9,326.9 914.9,328.6 923.9,335.6 932.9,342.1 941.9,348.8 950.9,353.4 959.9,358.0 968.9,364.4 977.9,369.5 986.9,372.3 995.9,374.8 1004.9,375.6 1013.9,374.4 1022.9,372.9 1031.9,371.8 1040.9,370.5 1049.9,371.4 1058.9,371.6 1067.9,373.8 1076.9,382.6 1085.9,390.6 1094.9,401.8 1103.9,414.7 1112.9,427.4 1121.9,440.7 1130.9,451.6 1139.9,454.3 1148.9,458.1 1157.9,462.3 1166.9,461.4 1175.9,461.7 1184.9,461.6 1193.9,458.7 1202.9,455.8 1211.9,450.3 1220.9,443.8 1229.9,441.4 1238.9,437.4 1247.9,433.1 1256.9,429.4 1265.9,425.3 1274.9,417.1 1283.9,408.2 1292.9,400.8 1301.9,392.7 1310.9,388.9 1319.9,385.8 1328.9,385.3 1337.9,384.2 1346.9,382.5 1355.9,383.6 1364.9,388.1 1373.9,393.1 1382.9,396.1 1391.9,402.3 1400.9,407.1 1409.9,408.5 1418.9,407.1 1427.9,405.8 1436.9,407.4" fill="none" stroke="#ffff00" stroke-width="1.35" />
<polyline points="5.9,71.7 14.9,79.1 23.9,80.5 32.9,81.2 41.9,86.3 50.9,97.8 59.9,94.5 68.9,95.1 77.9,100.5 86.9,97.4 95.9,91.1 104.9,88.4 113.9,88.8 122.9,79.1 131.9,72.2 140.9,64.4 149.9,59.2 158.9,56.7 167.9,59.7 176.9,59.5 185.9,60.9 194.9,65.6 203.9,65.1 212.9,60.7 221.9,58.5 230.9,58.5 239.9,57.7 248.9,62.3 257.9,71.4 266.9,85.3 275.9,101.9 284.9,114.5 293.9,127.4 302.9,140.3 311.9,143.8 320.9,141.4 329.9,143.5 338.9,143.3 347.9,145.1 356.9,149.4 365.9,157.1 374.9,164.8 383.9,173.8 392.9,192.8 401.9,213.4 410.9,235.8 419.9,252.6 428.9,266.8 437.9,264.5 446.9,267.1 455.9,264.4 464.9,256.6 473.9,250.0 482.9,244.3 491.9,241.3 500.9,242.6 509.9,251.6 518.9,252.4 527.9,254.4 536.9,254.9 545.9,243.7 554.9,233.2 563.9,228.5 572.9,224.6 581.9,218.4 590.9,221.3 599.9,222.6 608.9,222.0 617.9,220.9 626.9,217.6 635.9,216.0 644.9,217.8 653.9,226.2 662.9,235.4 671.9,247.6 680.9,260.4 689.9,275.8 698.9,291.9 707.9,303.1 716.9,315.8 725.9,317.6 734.9,313.5 743.9,301.2 752.9,295.8 761.9,291.6 770.9,296.2 779.9,307.0 788.9,319.9 797.9,329.0 806.9,334.4 815.9,335.7 824.9,333.5 833.9,325.7 842.9,320.3 851.9,314.6 860.9,314.0 869.9,315.8 878.9,322.5 887.9,327.8 896.9,334.8 905.9,339.8 914.9,341.4 923.9,348.6 932.9,356.4 941.9,362.8 950.9,367.0 959.9,374.7 968.9,380.3 977.9,382.7 986.9,381.8 995.9,382.6 1004.9,376.4 1013.9,368.6 1022.9,363.1 1031.9,361.8 1040.9,358.4 1049.9,366.4 1058.9,374.7 1067.9,384.5 1076.9,403.3 1085.9,422.9 1094.9,437.2 1103.9,454.7 1112.9,470.2 1121.9,478.0 1130.9,480.4 1139.9,471.5 1148.9,461.5 1157.9,454.5 1166.9,444.8 1175.9,443.0 1184.9,451.7 1193.9,455.9 1202.9,457.2 1211.9,455.8 1220.9,444.5 1229.9,431.1 1238.9,418.9 1247.9,409.0 1256.9,403.0 1265.9,406.0 1274.9,403.2 1283.9,397.5 1292.9,392.6 1301.9,382.4 1310.9,371.8 1319.9,368.4 1328.9,373.1 1337.9,375.8 1346.9,382.6 1355.9,395.4 1364.9,407.7 1373.9,413.1 1382.9,416.3 1391.9,422.0 1400.9,418.8 1409.9,409.4 1418.9,401.1 1427.9,395.3 1436.9,392.8" fill="none" stroke="#ffffff" stroke-width="1.35" />
<polyline points="1166.1,173.7 1190.3,179.3 1230.6,186.0 1271.0,192.0 1291.1,194.8 1311.3,197.9 1351.6,204.1 1391.9,211.0 1435.3,217.0" fill="none" stroke="#00e000" stroke-width="1.3" />
<path d="M571.2 194.9 L575.8 194.9 L575.8 202.7 L580.2 202.7 L573.5 210.1 L566.8 202.7 L571.2 202.7 Z" fill="none" stroke="#00d800" stroke-width="1.25" stroke-linejoin="miter"/>
<path d="M634.2 185.7 L638.8 185.7 L638.8 193.5 L643.2 193.5 L636.5 200.9 L629.8 193.5 L634.2 193.5 Z" fill="none" stroke="#00d800" stroke-width="1.25" stroke-linejoin="miter"/>
<path d="M1255.2 375.3 L1259.8 375.3 L1259.8 383.1 L1264.2 383.1 L1257.5 390.5 L1250.8 383.1 L1255.2 383.1 Z" fill="none" stroke="#00d800" stroke-width="1.25" stroke-linejoin="miter"/>
<path d="M1318.2 343.3 L1322.8 343.3 L1322.8 351.1 L1327.2 351.1 L1320.5 358.5 L1313.8 351.1 L1318.2 351.1 Z" fill="none" stroke="#00d800" stroke-width="1.25" stroke-linejoin="miter"/>
<path d="M1299.7 276.7 L1305.7 276.7 L1305.7 284.3 L1310.2 284.3 L1310.2 286.0 L1302.7 292.7 L1295.2 286.0 L1295.2 284.3 Z" fill="#00ff00"/>
<rect x="157.4" y="40.4" width="3.8" height="1.8" fill="#00c000"/>
<rect x="1404.6" y="416.6" width="62.6" height="18.6" fill="#000"/>
<text x="250.9" y="56.2" fill="#c4c4c4" letter-spacing="0.25">1876.20</text>
<text x="1150.2" y="521.0" fill="#c4c4c4" >1184.91</text>
<g clip-path="url(#cm)"><text x="1405.0" y="432.8" fill="#c4c4c4" >1332.93</text></g>
<g clip-path="url(#cm)">
<line x1="2.0" y1="126.9" x2="1012.7" y2="521.7" stroke="#0000ff" stroke-width="1.6"/>
<line x1="213.2" y1="38.5" x2="1455.3" y2="522.0" stroke="#0000ff" stroke-width="1.6"/>
<line x1="657.8" y1="38.6" x2="1467.5" y2="354.8" stroke="#0000ff" stroke-width="1.6"/>
<line x1="839.3" y1="522.0" x2="1467.5" y2="301.2" stroke="#0000ff" stroke-width="1.6"/>
<line x1="1125.8" y1="521.8" x2="1467.5" y2="400.8" stroke="#0000ff" stroke-width="1.6"/>
<line x1="2.0" y1="347.8" x2="1467.5" y2="347.8" stroke="#0000ff" stroke-width="1.8"/>
<line x1="2.0" y1="401.9" x2="1467.5" y2="401.9" stroke="#0000ff" stroke-width="1.8"/>
</g>
<path d="M231.5 42.5 L231.5 40.2 L235 40.2 M233 43.5 L246 46.5" fill="none" stroke="#c8c8c8" stroke-width="1.3"/>
<path d="M1131.2 515 L1131.2 511.6 L1148.5 511.6" fill="none" stroke="#c8c8c8" stroke-width="1.4"/>
<path d="M1125.5 521.5 L1131.5 515.5 L1137.5 520.5 Z" fill="#ff2020"/>
<rect x="3.6" y="619.9" width="4.6" height="93.4" fill="#ff3232"/>
<rect x="12.6" y="618.1" width="4.6" height="95.2" fill="#54ffff"/>
<rect x="21.6" y="608.1" width="4.6" height="105.2" fill="#ff3232"/>
<rect x="30.6" y="614.1" width="4.6" height="99.2" fill="#ff3232"/>
<rect x="39.6" y="616.6" width="4.6" height="96.7" fill="#54ffff"/>
<rect x="48.6" y="625.7" width="4.6" height="87.6" fill="#54ffff"/>
<rect x="57.6" y="620.8" width="4.6" height="92.5" fill="#ff3232"/>
<rect x="66.6" y="620.8" width="4.6" height="92.5" fill="#ff3232"/>
<rect x="75.6" y="627.1" width="4.6" height="86.2" fill="#54ffff"/>
<rect x="84.6" y="631.7" width="4.6" height="81.6" fill="#ff3232"/>
<rect x="93.6" y="633.1" width="4.6" height="80.2" fill="#54ffff"/>
<rect x="102.6" y="629.0" width="4.6" height="84.3" fill="#ff3232"/>
<rect x="111.6" y="639.3" width="4.6" height="74.0" fill="#54ffff"/>
<rect x="120.6" y="631.1" width="4.6" height="82.2" fill="#ff3232"/>
<rect x="129.6" y="629.9" width="4.6" height="83.4" fill="#ff3232"/>
<rect x="138.6" y="631.1" width="4.6" height="82.2" fill="#ff3232"/>
<rect x="147.6" y="621.7" width="4.6" height="91.6" fill="#ff3232"/>
<rect x="156.6" y="624.4" width="4.6" height="88.9" fill="#54ffff"/>
<rect x="165.6" y="633.5" width="4.6" height="79.8" fill="#54ffff"/>
<rect x="174.6" y="638.0" width="4.6" height="75.3" fill="#ff3232"/>
<rect x="183.6" y="638.0" width="4.6" height="75.3" fill="#54ffff"/>
<rect x="192.6" y="643.8" width="4.6" height="69.5" fill="#54ffff"/>
<rect x="201.6" y="642.2" width="4.6" height="71.1" fill="#ff3232"/>
<rect x="210.6" y="624.4" width="4.6" height="88.9" fill="#ff3232"/>
<rect x="219.6" y="627.5" width="4.6" height="85.8" fill="#ff3232"/>
<rect x="228.6" y="623.0" width="4.6" height="90.3" fill="#54ffff"/>
<rect x="237.6" y="636.6" width="4.6" height="76.7" fill="#54ffff"/>
<rect x="246.6" y="629.0" width="4.6" height="84.3" fill="#54ffff"/>
<rect x="255.6" y="634.4" width="4.6" height="78.9" fill="#54ffff"/>
<rect x="264.6" y="634.4" width="4.6" height="78.9" fill="#54ffff"/>
<rect x="273.6" y="623.0" width="4.6" height="90.3" fill="#54ffff"/>
<rect x="282.6" y="638.0" width="4.6" height="75.3" fill="#ff3232"/>
<rect x="291.6" y="641.1" width="4.6" height="72.2" fill="#54ffff"/>
<rect x="300.6" y="649.8" width="4.6" height="63.5" fill="#54ffff"/>
<rect x="309.6" y="640.7" width="4.6" height="72.6" fill="#ff3232"/>
<rect x="318.6" y="642.2" width="4.6" height="71.1" fill="#54ffff"/>
<rect x="327.6" y="644.4" width="4.6" height="68.9" fill="#54ffff"/>
<rect x="336.6" y="644.4" width="4.6" height="68.9" fill="#54ffff"/>
<rect x="345.6" y="653.1" width="4.6" height="60.2" fill="#54ffff"/>
<rect x="354.6" y="648.4" width="4.6" height="64.9" fill="#ff3232"/>
<rect x="363.6" y="648.9" width="4.6" height="64.4" fill="#54ffff"/>
<rect x="372.6" y="654.4" width="4.6" height="58.9" fill="#54ffff"/>
<rect x="381.6" y="641.1" width="4.6" height="72.2" fill="#54ffff"/>
<rect x="390.6" y="627.5" width="4.6" height="85.8" fill="#54ffff"/>
<rect x="399.6" y="633.5" width="4.6" height="79.8" fill="#ff3232"/>
<rect x="408.6" y="634.9" width="4.6" height="78.4" fill="#54ffff"/>
<rect x="417.6" y="643.5" width="4.6" height="69.8" fill="#ff3232"/>
<rect x="426.6" y="647.1" width="4.6" height="66.2" fill="#54ffff"/>
<rect x="435.6" y="636.8" width="4.6" height="76.5" fill="#ff3232"/>
<rect x="444.6" y="636.6" width="4.6" height="76.7" fill="#54ffff"/>
<rect x="453.6" y="641.1" width="4.6" height="72.2" fill="#54ffff"/>
<rect x="462.6" y="624.4" width="4.6" height="88.9" fill="#ff3232"/>
<rect x="471.6" y="625.9" width="4.6" height="87.4" fill="#54ffff"/>
<rect x="480.6" y="618.4" width="4.6" height="94.9" fill="#ff3232"/>
<rect x="489.6" y="632.0" width="4.6" height="81.3" fill="#54ffff"/>
<rect x="498.6" y="639.5" width="4.6" height="73.8" fill="#54ffff"/>
<rect x="507.6" y="625.9" width="4.6" height="87.4" fill="#ff3232"/>
<rect x="516.6" y="638.0" width="4.6" height="75.3" fill="#ff3232"/>
<rect x="525.6" y="636.6" width="4.6" height="76.7" fill="#ff3232"/>
<rect x="534.6" y="623.0" width="4.6" height="90.3" fill="#ff3232"/>
<rect x="543.6" y="603.5" width="4.6" height="109.8" fill="#ff3232"/>
<rect x="552.6" y="613.9" width="4.6" height="99.4" fill="#ff3232"/>
<rect x="561.6" y="623.0" width="4.6" height="90.3" fill="#ff3232"/>
<rect x="570.6" y="627.5" width="4.6" height="85.8" fill="#ff3232"/>
<rect x="579.6" y="621.7" width="4.6" height="91.6" fill="#54ffff"/>
<rect x="588.6" y="632.0" width="4.6" height="81.3" fill="#54ffff"/>
<rect x="597.6" y="633.5" width="4.6" height="79.8" fill="#ff3232"/>
<rect x="606.6" y="619.9" width="4.6" height="93.4" fill="#ff3232"/>
<rect x="615.6" y="612.6" width="4.6" height="100.7" fill="#ff3232"/>
<rect x="624.6" y="616.8" width="4.6" height="96.5" fill="#ff3232"/>
<rect x="633.6" y="609.4" width="4.6" height="103.9" fill="#54ffff"/>
<rect x="642.6" y="627.5" width="4.6" height="85.8" fill="#54ffff"/>
<rect x="651.6" y="634.9" width="4.6" height="78.4" fill="#54ffff"/>
<rect x="660.6" y="648.5" width="4.6" height="64.8" fill="#ff3232"/>
<rect x="669.6" y="641.1" width="4.6" height="72.2" fill="#54ffff"/>
<rect x="678.6" y="626.2" width="4.6" height="87.1" fill="#54ffff"/>
<rect x="687.6" y="653.1" width="4.6" height="60.2" fill="#54ffff"/>
<rect x="696.6" y="650.2" width="4.6" height="63.1" fill="#54ffff"/>
<rect x="705.6" y="645.3" width="4.6" height="68.0" fill="#ff3232"/>
<rect x="714.6" y="645.3" width="4.6" height="68.0" fill="#54ffff"/>
<rect x="723.6" y="629.0" width="4.6" height="84.3" fill="#ff3232"/>
<rect x="732.6" y="642.6" width="4.6" height="70.7" fill="#ff3232"/>
<rect x="741.6" y="643.5" width="4.6" height="69.8" fill="#ff3232"/>
<rect x="750.6" y="647.1" width="4.6" height="66.2" fill="#54ffff"/>
<rect x="759.6" y="642.6" width="4.6" height="70.7" fill="#54ffff"/>
<rect x="768.6" y="645.3" width="4.6" height="68.0" fill="#ff3232"/>
<rect x="777.6" y="648.5" width="4.6" height="64.8" fill="#54ffff"/>
<rect x="786.6" y="648.5" width="4.6" height="64.8" fill="#ff3232"/>
<rect x="795.6" y="648.5" width="4.6" height="64.8" fill="#ff3232"/>
<rect x="804.6" y="648.5" width="4.6" height="64.8" fill="#54ffff"/>
<rect x="813.6" y="649.8" width="4.6" height="63.5" fill="#ff3232"/>
<rect x="822.6" y="654.4" width="4.6" height="58.9" fill="#54ffff"/>
<rect x="831.6" y="639.5" width="4.6" height="73.8" fill="#ff3232"/>
<rect x="840.6" y="645.6" width="4.6" height="67.7" fill="#54ffff"/>
<rect x="849.6" y="651.3" width="4.6" height="62.0" fill="#54ffff"/>
<rect x="858.6" y="649.8" width="4.6" height="63.5" fill="#54ffff"/>
<rect x="867.6" y="654.4" width="4.6" height="58.9" fill="#54ffff"/>
<rect x="876.6" y="651.3" width="4.6" height="62.0" fill="#ff3232"/>
<rect x="885.6" y="639.5" width="4.6" height="73.8" fill="#ff3232"/>
<rect x="894.6" y="639.5" width="4.6" height="73.8" fill="#54ffff"/>
<rect x="903.6" y="642.6" width="4.6" height="70.7" fill="#54ffff"/>
<rect x="912.6" y="636.6" width="4.6" height="76.7" fill="#54ffff"/>
<rect x="921.6" y="643.8" width="4.6" height="69.5" fill="#54ffff"/>
<rect x="930.6" y="651.3" width="4.6" height="62.0" fill="#ff3232"/>
<rect x="939.6" y="652.9" width="4.6" height="60.4" fill="#54ffff"/>
<rect x="948.6" y="642.6" width="4.6" height="70.7" fill="#54ffff"/>
<rect x="957.6" y="639.5" width="4.6" height="73.8" fill="#54ffff"/>
<rect x="966.6" y="649.8" width="4.6" height="63.5" fill="#54ffff"/>
<rect x="975.6" y="647.1" width="4.6" height="66.2" fill="#ff3232"/>
<rect x="984.6" y="630.4" width="4.6" height="82.9" fill="#ff3232"/>
<rect x="993.6" y="642.6" width="4.6" height="70.7" fill="#54ffff"/>
<rect x="1002.6" y="636.6" width="4.6" height="76.7" fill="#ff3232"/>
<rect x="1011.6" y="655.8" width="4.6" height="57.5" fill="#ff3232"/>
<rect x="1020.6" y="639.5" width="4.6" height="73.8" fill="#ff3232"/>
<rect x="1029.6" y="632.0" width="4.6" height="81.3" fill="#54ffff"/>
<rect x="1038.6" y="648.5" width="4.6" height="64.8" fill="#ff3232"/>
<rect x="1047.6" y="649.8" width="4.6" height="63.5" fill="#54ffff"/>
<rect x="1056.6" y="658.9" width="4.6" height="54.4" fill="#54ffff"/>
<rect x="1065.6" y="655.8" width="4.6" height="57.5" fill="#54ffff"/>
<rect x="1074.6" y="623.0" width="4.6" height="90.3" fill="#54ffff"/>
<rect x="1083.6" y="630.4" width="4.6" height="82.9" fill="#ff3232"/>
<rect x="1092.6" y="648.5" width="4.6" height="64.8" fill="#54ffff"/>
<rect x="1101.6" y="643.8" width="4.6" height="69.5" fill="#54ffff"/>
<rect x="1110.6" y="635.3" width="4.6" height="78.0" fill="#ff3232"/>
<rect x="1119.6" y="638.0" width="4.6" height="75.3" fill="#54ffff"/>
<rect x="1128.6" y="630.4" width="4.6" height="82.9" fill="#ff3232"/>
<rect x="1137.6" y="602.1" width="4.6" height="111.2" fill="#ff3232"/>
<rect x="1146.6" y="619.9" width="4.6" height="93.4" fill="#54ffff"/>
<rect x="1155.6" y="636.6" width="4.6" height="76.7" fill="#54ffff"/>
<rect x="1164.6" y="634.9" width="4.6" height="78.4" fill="#ff3232"/>
<rect x="1173.6" y="642.6" width="4.6" height="70.7" fill="#54ffff"/>
<rect x="1182.6" y="651.6" width="4.6" height="61.7" fill="#54ffff"/>
<rect x="1191.6" y="639.5" width="4.6" height="73.8" fill="#ff3232"/>
<rect x="1200.6" y="638.0" width="4.6" height="75.3" fill="#ff3232"/>
<rect x="1209.6" y="613.9" width="4.6" height="99.4" fill="#54ffff"/>
<rect x="1218.6" y="599.0" width="4.6" height="114.3" fill="#ff3232"/>
<rect x="1227.6" y="600.5" width="4.6" height="112.8" fill="#ff3232"/>
<rect x="1236.6" y="630.4" width="4.6" height="82.9" fill="#ff3232"/>
<rect x="1245.6" y="615.3" width="4.6" height="98.0" fill="#54ffff"/>
<rect x="1254.6" y="629.0" width="4.6" height="84.3" fill="#54ffff"/>
<rect x="1263.6" y="641.1" width="4.6" height="72.2" fill="#ff3232"/>
<rect x="1272.6" y="609.4" width="4.6" height="103.9" fill="#ff3232"/>
<rect x="1281.6" y="569.1" width="4.6" height="144.2" fill="#ff3232"/>
<rect x="1290.6" y="589.9" width="4.6" height="123.4" fill="#54ffff"/>
<rect x="1299.6" y="600.8" width="4.6" height="112.5" fill="#ff3232"/>
<rect x="1308.6" y="594.5" width="4.6" height="118.8" fill="#54ffff"/>
<rect x="1317.6" y="609.4" width="4.6" height="103.9" fill="#54ffff"/>
<rect x="1326.6" y="608.1" width="4.6" height="105.2" fill="#54ffff"/>
<rect x="1335.6" y="618.4" width="4.6" height="94.9" fill="#ff3232"/>
<rect x="1344.6" y="627.5" width="4.6" height="85.8" fill="#54ffff"/>
<rect x="1353.6" y="606.3" width="4.6" height="107.0" fill="#54ffff"/>
<rect x="1362.6" y="642.6" width="4.6" height="70.7" fill="#54ffff"/>
<rect x="1371.6" y="638.0" width="4.6" height="75.3" fill="#ff3232"/>
<rect x="1380.6" y="621.7" width="4.6" height="91.6" fill="#ff3232"/>
<rect x="1389.6" y="621.7" width="4.6" height="91.6" fill="#54ffff"/>
<rect x="1398.6" y="633.5" width="4.6" height="79.8" fill="#ff3232"/>
<rect x="1407.6" y="603.5" width="4.6" height="109.8" fill="#ff3232"/>
<rect x="1416.6" y="618.4" width="4.6" height="94.9" fill="#ff3232"/>
<rect x="1425.6" y="613.9" width="4.6" height="99.4" fill="#ff3232"/>
<rect x="1434.6" y="618.4" width="4.6" height="94.9" fill="#54ffff"/>
<polyline points="5.9,623.9 14.9,623.9 23.9,622.0 32.9,619.0 41.9,615.4 50.9,616.5 59.9,617.1 68.9,619.6 77.9,622.2 86.9,625.2 95.9,626.7 104.9,628.3 113.9,632.0 122.9,632.8 131.9,632.5 140.9,632.1 149.9,630.6 158.9,627.6 167.9,628.1 176.9,629.7 185.9,631.1 194.9,635.5 203.9,639.1 212.9,637.3 221.9,635.2 230.9,632.2 239.9,630.7 248.9,628.1 257.9,630.1 266.9,631.5 275.9,631.5 284.9,631.8 293.9,634.2 302.9,637.3 311.9,638.5 320.9,642.4 329.9,643.6 338.9,644.3 347.9,645.0 356.9,646.5 365.9,647.8 374.9,649.8 383.9,649.2 392.9,644.1 401.9,641.1 410.9,638.3 419.9,636.1 428.9,637.3 437.9,639.2 446.9,639.8 455.9,641.0 464.9,637.2 473.9,633.0 482.9,629.3 491.9,628.4 500.9,628.0 509.9,628.3 518.9,630.8 527.9,634.4 536.9,632.6 545.9,625.4 554.9,623.0 563.9,620.0 572.9,618.2 581.9,617.9 590.9,623.6 599.9,627.5 608.9,626.9 617.9,623.9 626.9,623.0 635.9,618.4 644.9,617.2 653.9,620.2 662.9,627.4 671.9,632.3 680.9,635.6 689.9,640.8 698.9,643.8 707.9,643.2 716.9,644.0 725.9,644.6 734.9,642.5 743.9,641.1 752.9,641.5 761.9,641.0 770.9,644.2 779.9,645.4 788.9,646.4 797.9,646.7 806.9,647.9 815.9,648.8 824.9,649.9 833.9,648.1 842.9,647.6 851.9,648.1 860.9,648.1 869.9,648.1 878.9,650.5 887.9,649.3 896.9,646.9 905.9,645.5 914.9,641.9 923.9,640.4 932.9,642.8 941.9,645.4 950.9,645.4 959.9,646.0 968.9,647.2 977.9,646.4 986.9,641.9 995.9,641.9 1004.9,641.3 1013.9,642.5 1022.9,641.0 1031.9,641.3 1040.9,642.5 1049.9,645.1 1058.9,645.7 1067.9,649.0 1076.9,647.2 1085.9,643.6 1094.9,643.3 1103.9,640.3 1112.9,636.2 1121.9,639.2 1130.9,639.2 1139.9,629.9 1148.9,625.1 1157.9,625.4 1166.9,624.8 1175.9,627.2 1184.9,637.1 1193.9,641.0 1202.9,641.3 1211.9,637.1 1220.9,628.4 1229.9,618.2 1238.9,616.4 1247.9,611.8 1256.9,614.8 1265.9,623.3 1274.9,625.0 1283.9,612.8 1292.9,607.7 1301.9,602.1 1310.9,592.7 1319.9,592.7 1328.9,600.5 1337.9,606.2 1346.9,611.6 1355.9,613.9 1364.9,620.6 1373.9,626.6 1382.9,627.2 1391.9,626.1 1400.9,631.5 1409.9,623.7 1418.9,619.8 1427.9,618.2 1436.9,617.5" fill="none" stroke="#ffffff" stroke-width="1.35" />
<polyline points="5.9,615.9 14.9,617.7 23.9,619.3 32.9,620.2 41.9,620.8 50.9,620.8 59.9,620.8 68.9,620.8 77.9,620.8 86.9,620.3 95.9,621.6 104.9,622.7 113.9,625.8 122.9,627.5 131.9,628.9 140.9,629.4 149.9,629.5 158.9,629.8 167.9,630.5 176.9,631.1 185.9,631.6 194.9,633.1 203.9,633.4 212.9,632.7 221.9,632.5 230.9,631.6 239.9,633.1 248.9,633.6 257.9,633.7 266.9,633.3 275.9,631.8 284.9,631.2 293.9,631.1 302.9,633.7 311.9,635.0 320.9,636.9 329.9,637.7 338.9,639.2 347.9,641.1 356.9,642.5 365.9,645.1 374.9,646.7 383.9,646.7 392.9,644.5 401.9,643.8 410.9,643.1 419.9,643.0 428.9,643.2 437.9,641.6 446.9,640.4 455.9,639.6 464.9,636.6 473.9,635.1 482.9,634.2 491.9,634.1 500.9,634.5 509.9,632.8 518.9,631.9 527.9,631.8 536.9,630.5 545.9,626.7 554.9,625.7 563.9,625.4 572.9,626.3 581.9,625.3 590.9,624.5 599.9,625.3 608.9,623.5 617.9,621.1 626.9,620.4 635.9,621.0 644.9,622.4 653.9,623.6 662.9,625.7 671.9,627.6 680.9,627.0 689.9,629.0 698.9,632.0 707.9,635.3 716.9,638.1 725.9,640.1 734.9,641.6 743.9,642.5 752.9,642.3 761.9,642.5 770.9,644.4 779.9,643.9 788.9,643.8 797.9,644.1 806.9,644.4 815.9,646.5 824.9,647.7 833.9,647.3 842.9,647.1 851.9,648.0 860.9,648.4 869.9,649.0 878.9,649.3 887.9,648.4 896.9,647.5 905.9,646.8 914.9,645.0 923.9,645.4 932.9,646.0 941.9,646.2 950.9,645.5 959.9,644.0 968.9,643.8 977.9,644.6 986.9,643.7 995.9,643.7 1004.9,643.7 1013.9,644.9 1022.9,643.7 1031.9,641.6 1040.9,642.2 1049.9,643.2 1058.9,644.1 1067.9,645.0 1076.9,644.2 1085.9,643.0 1094.9,644.2 1103.9,643.0 1112.9,642.6 1121.9,643.2 1130.9,641.4 1139.9,636.6 1148.9,632.7 1157.9,630.8 1166.9,632.0 1175.9,633.2 1184.9,633.5 1193.9,633.1 1202.9,633.4 1211.9,631.0 1220.9,627.8 1229.9,627.6 1238.9,628.7 1247.9,626.6 1256.9,626.0 1265.9,625.8 1274.9,621.6 1283.9,614.6 1292.9,609.8 1301.9,608.5 1310.9,608.0 1319.9,608.9 1328.9,606.7 1337.9,607.0 1346.9,606.8 1355.9,603.3 1364.9,606.7 1373.9,613.5 1382.9,616.7 1391.9,618.8 1400.9,622.7 1409.9,622.1 1418.9,623.2 1427.9,622.7 1436.9,621.8" fill="none" stroke="#ffff00" stroke-width="1.35" />
<polyline points="5.9,838.2 14.9,848.3 23.9,834.6 32.9,825.3 41.9,830.8 50.9,836.5 59.9,822.4 68.9,812.1 77.9,814.8 86.9,809.1 95.9,805.0 104.9,793.6 113.9,788.2 122.9,779.1 131.9,772.7 140.9,770.5 149.9,767.1 158.9,776.6 167.9,784.7 176.9,780.2 185.9,788.6 194.9,805.3 203.9,811.3 212.9,797.9 221.9,785.3 230.9,794.0 239.9,803.5 248.9,825.0 257.9,835.5 266.9,846.2 275.9,852.8 284.9,851.6 293.9,854.8 302.9,856.9 311.9,848.0 320.9,841.9 329.9,839.0 338.9,842.9 347.9,849.0 356.9,839.1 365.9,846.4 374.9,852.1 383.9,856.0 392.9,857.7 401.9,854.9 410.9,859.1 419.9,855.0 428.9,853.2 437.9,848.1 446.9,847.5 455.9,846.6 464.9,823.0 473.9,809.4 482.9,795.8 491.9,799.0 500.9,813.6 509.9,823.6 518.9,815.2 527.9,803.8 536.9,807.8 545.9,793.1 554.9,784.4 563.9,779.0 572.9,773.5 581.9,777.1 590.9,788.3 599.9,788.9 608.9,784.6 617.9,781.6 626.9,781.1 635.9,794.1 644.9,809.0 653.9,826.9 662.9,836.5 671.9,846.8 680.9,848.0 689.9,854.6 698.9,858.0 707.9,853.2 716.9,855.4 725.9,845.6 734.9,833.5 743.9,819.8 752.9,807.1 761.9,810.6 770.9,819.2 779.9,834.2 788.9,836.8 797.9,832.1 806.9,834.1 815.9,831.0 824.9,830.3 833.9,815.8 842.9,798.9 851.9,792.4 860.9,796.3 869.9,819.0 878.9,822.9 887.9,821.1 896.9,830.5 905.9,839.7 914.9,844.9 923.9,852.7 932.9,853.3 941.9,857.2 950.9,852.0 959.9,857.6 968.9,859.7 977.9,851.2 986.9,841.6 995.9,831.2 1004.9,808.2 1013.9,797.5 1022.9,788.7 1031.9,791.5 1040.9,788.7 1049.9,810.7 1058.9,827.0 1067.9,836.0 1076.9,845.4 1085.9,845.7 1094.9,849.8 1103.9,854.7 1112.9,854.5 1121.9,859.2 1130.9,847.7 1139.9,826.9 1148.9,813.9 1157.9,807.0 1166.9,805.2 1175.9,806.7 1184.9,809.9 1193.9,810.8 1202.9,807.2 1211.9,805.4 1220.9,790.0 1229.9,785.1 1238.9,781.8 1247.9,780.2 1256.9,783.6 1265.9,787.3 1274.9,778.4 1283.9,774.9 1292.9,776.6 1301.9,770.5 1310.9,771.1 1319.9,775.1 1328.9,792.3 1337.9,800.8 1346.9,810.6 1355.9,828.3 1364.9,839.1 1373.9,842.6 1382.9,837.6 1391.9,842.0 1400.9,836.2 1409.9,812.7 1418.9,796.2 1427.9,787.4 1436.9,795.0" fill="none" stroke="#ffffff" stroke-width="1.35" />
<polyline points="5.9,825.6 14.9,833.2 23.9,833.7 32.9,830.9 41.9,830.8 50.9,832.7 59.9,829.3 68.9,823.6 77.9,820.6 86.9,816.8 95.9,812.9 104.9,806.4 113.9,800.3 122.9,793.3 131.9,786.4 140.9,781.1 149.9,776.5 158.9,776.5 167.9,779.3 176.9,779.6 185.9,782.6 194.9,790.2 203.9,797.2 212.9,797.4 221.9,793.4 230.9,793.6 239.9,796.9 248.9,806.3 257.9,816.0 266.9,826.1 275.9,835.0 284.9,840.5 293.9,845.3 302.9,849.2 311.9,848.8 320.9,846.5 329.9,844.0 338.9,843.6 347.9,845.4 356.9,843.3 365.9,844.3 374.9,846.9 383.9,850.0 392.9,852.5 401.9,853.3 410.9,855.3 419.9,855.2 428.9,854.5 437.9,852.4 446.9,850.7 455.9,849.3 464.9,840.5 473.9,830.2 482.9,818.7 491.9,812.1 500.9,812.6 509.9,816.3 518.9,815.9 527.9,811.9 536.9,810.5 545.9,804.7 554.9,797.9 563.9,791.6 572.9,785.6 581.9,782.8 590.9,784.6 599.9,786.1 608.9,785.6 617.9,784.3 626.9,783.2 635.9,786.8 644.9,794.2 653.9,805.1 662.9,815.6 671.9,826.0 680.9,833.4 689.9,840.4 698.9,846.3 707.9,848.6 716.9,850.9 725.9,849.1 734.9,843.9 743.9,835.9 752.9,826.3 761.9,821.1 770.9,820.5 779.9,825.0 788.9,829.0 797.9,830.0 806.9,831.4 815.9,831.3 824.9,830.9 833.9,825.9 842.9,816.9 851.9,808.7 860.9,804.6 869.9,809.4 878.9,813.9 887.9,816.3 896.9,821.0 905.9,827.3 914.9,833.1 923.9,839.7 932.9,844.2 941.9,848.5 950.9,849.7 959.9,852.3 968.9,854.8 977.9,853.6 986.9,849.6 995.9,843.5 1004.9,831.7 1013.9,820.3 1022.9,809.8 1031.9,803.7 1040.9,798.7 1049.9,802.7 1058.9,810.8 1067.9,819.2 1076.9,827.9 1085.9,833.9 1094.9,839.2 1103.9,844.4 1112.9,847.8 1121.9,851.6 1130.9,850.3 1139.9,842.5 1148.9,833.0 1157.9,824.3 1166.9,817.9 1175.9,814.2 1184.9,812.8 1193.9,812.1 1202.9,810.5 1211.9,808.8 1220.9,802.5 1229.9,796.7 1238.9,791.7 1247.9,787.9 1256.9,786.4 1265.9,786.7 1274.9,783.9 1283.9,780.9 1292.9,779.5 1301.9,776.5 1310.9,774.7 1319.9,774.8 1328.9,780.7 1337.9,787.4 1346.9,795.1 1355.9,806.2 1364.9,817.1 1373.9,825.6 1382.9,829.6 1391.9,833.7 1400.9,834.6 1409.9,827.3 1418.9,816.9 1427.9,807.1 1436.9,803.0" fill="none" stroke="#ffff00" stroke-width="1.35" />
<polyline points="5.9,863.5 14.9,878.4 23.9,836.6 32.9,814.1 41.9,830.6 50.9,844.2 59.9,808.7 68.9,789.1 77.9,803.1 86.9,793.7 95.9,789.3 104.9,767.8 113.9,763.8 122.9,750.9 131.9,745.3 140.9,749.3 149.9,748.5 158.9,776.8 167.9,795.7 176.9,781.4 185.9,800.7 194.9,835.6 203.9,839.6 212.9,798.7 221.9,769.2 230.9,794.7 239.9,816.7 248.9,862.5 257.9,874.5 266.9,886.4 275.9,888.4 284.9,873.9 293.9,873.9 302.9,872.5 311.9,846.6 320.9,832.6 329.9,829.0 338.9,841.6 347.9,856.1 356.9,830.6 365.9,850.5 374.9,862.5 383.9,868.1 392.9,868.1 401.9,858.1 410.9,866.9 419.9,854.5 428.9,850.5 437.9,839.6 446.9,841.0 455.9,841.0 464.9,787.8 473.9,767.8 482.9,749.9 491.9,772.8 500.9,815.7 509.9,838.2 518.9,813.7 527.9,787.8 536.9,802.3 545.9,769.8 554.9,757.3 563.9,753.9 572.9,749.3 581.9,765.8 590.9,795.7 599.9,794.7 608.9,782.8 617.9,776.4 626.9,776.8 635.9,808.7 644.9,838.6 653.9,870.5 662.9,878.4 671.9,888.4 680.9,877.4 689.9,883.0 698.9,881.4 707.9,862.5 716.9,864.5 725.9,838.6 734.9,812.7 743.9,787.8 752.9,768.8 761.9,789.7 770.9,816.7 779.9,852.5 788.9,852.5 797.9,836.2 806.9,839.6 815.9,830.6 824.9,829.0 833.9,795.7 842.9,762.8 851.9,759.8 860.9,779.8 869.9,838.2 878.9,841.0 887.9,830.6 896.9,849.5 905.9,864.5 914.9,868.5 923.9,878.8 932.9,871.5 941.9,874.5 950.9,856.5 959.9,868.1 968.9,869.5 977.9,846.6 986.9,825.6 995.9,806.7 1004.9,761.2 1013.9,751.9 1022.9,746.5 1031.9,767.2 1040.9,768.8 1049.9,826.6 1058.9,859.5 1067.9,869.5 1076.9,880.4 1085.9,869.5 1094.9,871.1 1103.9,875.5 1112.9,868.1 1121.9,874.5 1130.9,842.6 1139.9,795.7 1148.9,775.8 1157.9,772.4 1166.9,779.8 1175.9,791.7 1184.9,804.1 1193.9,808.3 1202.9,800.7 1211.9,798.7 1220.9,764.8 1229.9,761.8 1238.9,761.8 1247.9,764.8 1256.9,777.8 1265.9,788.4 1274.9,767.2 1283.9,762.8 1292.9,770.8 1301.9,758.5 1310.9,763.8 1319.9,775.8 1328.9,815.7 1337.9,827.6 1346.9,841.6 1355.9,872.5 1364.9,883.0 1373.9,876.5 1382.9,853.5 1391.9,858.5 1400.9,839.6 1409.9,783.6 1418.9,754.7 1427.9,748.1 1436.9,778.8" fill="none" stroke="#ff00ff" stroke-width="1.35" />
<path d="M2 448 L14.2 464.8 L14.2 509.6 L2 529.6 Z" fill="#444444" fill-opacity="0.88" stroke="#707070" stroke-width="1.5"/>
<path d="M3.6 480.6 L11.2 488 L3.6 495.4 Z" fill="#eaa000"/>
<path d="M1435.3 17.6 L1443 25.3 L1435.3 33.1 L1427.6 25.3 Z" fill="none" stroke="#b00000" stroke-width="1.5"/>
<rect x="1450.4" y="18" width="13.4" height="14.8" fill="none" stroke="#b00000" stroke-width="1.55"/>
<line x1="1459.3" y1="18" x2="1459.3" y2="33" stroke="#b00000" stroke-width="1.5"/>
<text x="2.6" y="30.4" fill="#c4c4c4" class="cj" textLength="179.6" lengthAdjust="spacingAndGlyphs">创业板指(日线.前复权)</text>
<path d="M198.6 15.4 L206.1 22.5 L206.1 24.2 L201.7 24.2 L201.7 31.8 L195.5 31.8 L195.5 24.2 L191.1 24.2 L191.1 22.5 Z" fill="#ff0000"/>
<text x="210.6" y="30.4" fill="#ffffff" letter-spacing="-0.09">MA5: 1361.69</text>
<text x="329.0" y="30.4" fill="#ffff00" >MA10: 1339.10</text>
<text x="457.8" y="30.4" fill="#ff00ff" >MA20: 1356.78</text>
<text x="587.3" y="30.4" fill="#00ff00" letter-spacing="-0.11">MA250: 1618.84</text>
<text x="2.4" y="558.5" fill="#e6e6e6" letter-spacing="0.14">VOLUME: 57111808.00</text>
<text x="201.7" y="558.5" fill="#ffffff" >MA5: 57565144.00</text>
<text x="362.3" y="558.5" fill="#ffff00" >MA10: 55032236.00</text>
<text x="1.5" y="734.2" fill="#c4c4c4" letter-spacing="0.19">KDJ(9,3,3)</text>
<text x="96.6" y="734.2" fill="#ffffff" >K: 66.47</text>
<text x="170.8" y="734.2" fill="#ffff00" >D: 58.97</text>
<text x="247.0" y="734.2" fill="#ff00ff" >J: 81.47</text>
<text x="1471.2" y="710.4" fill="#e03030" textLength="20.4" lengthAdjust="spacingAndGlyphs">X1</text>
<text x="1489.0" y="595.6" fill="#e03030" >7500</text>
<text x="1489.0" y="637.4" fill="#e03030" >5000</text>
<text x="1489.0" y="678.2" fill="#e03030" >2500</text>
<text x="1483.6" y="765.2" fill="#e03030" >100.00</text>
</g>
<rect x="0" y="0" width="1493" height="11" fill="url(#tg)"/>
<rect x="0" y="9" width="2.2" height="884" fill="#ebebeb"/>
<rect x="3.2" y="0" width="24.4" height="2" fill="#fafafa"/>
<rect x="580.8" y="0" width="57" height="8" fill="#e3e3e3"/>
<rect x="580.8" y="0" width="1.2" height="8" fill="#fbfbfb"/>
<rect x="636.6" y="0" width="1.2" height="8" fill="#fbfbfb"/>
<rect x="648.4" y="0" width="57" height="8" fill="#e3e3e3"/>
<rect x="648.4" y="0" width="1.2" height="8" fill="#fbfbfb"/>
<rect x="704.2" y="0" width="1.2" height="8" fill="#fbfbfb"/>
<rect x="637.8" y="0" width="10.6" height="8" fill="#c9c9c9"/>
<g clip-path="url(#ct)" filter="url(#bl)">
<text x="40" y="-0.5" class="tb">系统</text>
<text x="108" y="-0.5" class="tb">功能</text>
<text x="172" y="-0.5" class="tb">报价</text>
<text x="236" y="-0.5" class="tb">分析</text>
<text x="294" y="-0.5" class="tb">扩展市场</text>
<text x="386" y="-0.5" class="tb">资讯</text>
<text x="450" y="-0.5" class="tb">工具</text>
<text x="518" y="-0.5" class="tb">帮助</text>
<text x="591" y="-0.5" class="tb" style="fill:#ff3030">行情</text>
<text x="662" y="-0.5" class="tb" style="fill:#ff3030">交易</text>
<text x="990" y="-0.5" class="tb">创业板指数</text>
<text x="1130" y="-0.5" class="tb">通达信版</text>
</g>
</svg></body></html>
